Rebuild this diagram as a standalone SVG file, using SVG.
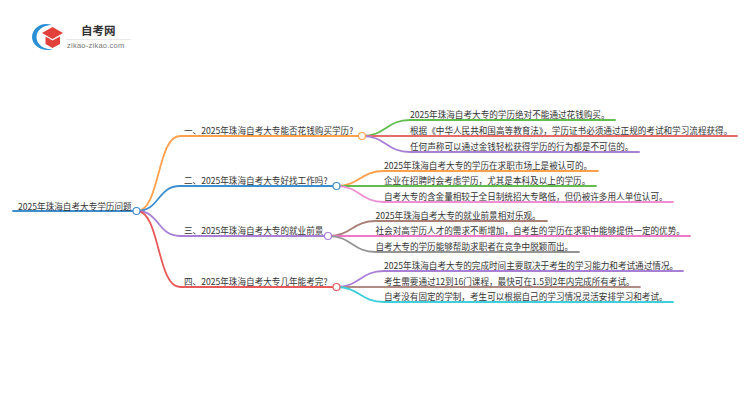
<svg xmlns="http://www.w3.org/2000/svg" width="750" height="410" viewBox="0 0 750 410">
<style>
text{font-family:"Noto Sans CJK SC","Liberation Sans",sans-serif;font-size:8.6px;fill:#333}
.l{fill:none;stroke-width:1.8;stroke-linecap:round}
.k{fill:#fff;stroke-width:1.2}
</style>
<rect width="750" height="410" fill="#fff"/>
<g id="logo">
<path d="M52 25C41 21 32 29 32 37C32 45 41 52 53 49.500C43 49.500 36.500 44 36.500 37C36.500 30 43 25 52 25Z" fill="#2b8fd6"/>
<path d="M52.500 27L63 33L52.500 39L42 33Z" fill="#e2403a"/>
<path d="M45.500 36.500L52.500 40.500L60 36.500V44L52.500 48L45.500 44Z" fill="#e2403a"/>
<text x="81" y="35" style="font-size:11.500px;font-weight:700;fill:#333">自考网</text>
<rect x="66" y="39" width="65" height="0.800" fill="#e4e4e4"/>
<text x="67" y="48" style="font-family:'Liberation Sans',sans-serif;font-size:7.500px;fill:#777;letter-spacing:.25px">zikao-zikao.com</text>
</g>
<g id="connectors">
<path class="l" stroke="#3f8fcf" d="M13 211H137"/>
<path class="l" stroke="#ffa04d" d="M137 211C160 211 157 136 180 136H362"/>
<path class="l" stroke="#3f8fcf" d="M137 211C160 211 157 186 180 186H336"/>
<path class="l" stroke="#a97fd6" d="M137 211C160 211 157 236 180 236H328"/>
<path class="l" stroke="#e85a5a" d="M137 211C160 211 157 287 180 287H336"/>
<path class="l" stroke="#62bd4f" d="M362 136C386 136 386 120 410 120H615"/>
<path class="l" stroke="#e66b6b" d="M362 136H737"/>
<path class="l" stroke="#a97fd6" d="M362 136C386 136 386 152 410 152H639"/>
<path class="l" stroke="#ffa04d" d="M336 186C360 186 360 171 384 171H598"/>
<path class="l" stroke="#62bd4f" d="M336 186H596"/>
<path class="l" stroke="#ee8fd2" d="M336 186C360 186 360 202 384 202H673"/>
<path class="l" stroke="#a98078" d="M328 236C352 236 352 221 376 221H547"/>
<path class="l" stroke="#ee78c8" d="M328 236H690"/>
<path class="l" stroke="#949494" d="M328 236C352 236 352 252 376 252H579"/>
<path class="l" stroke="#a97fd6" d="M336 287C360 287 360 271 384 271H683"/>
<path class="l" stroke="#b08a84" d="M336 287H640"/>
<path class="l" stroke="#3fcfdc" d="M336 287C360 287 360 302 384 302H673"/>
</g>
<g id="root"><circle class="k" cx="136.500" cy="211" r="3.500" stroke="#3f8fcf"/><text x="18" y="210">2025年珠海自考大专学历问题</text></g>
<g id="b1"><circle class="k" cx="362" cy="136" r="3.500" stroke="#ffa04d"/><text x="184" y="134">一、2025年珠海自考大专能否花钱购买学历?</text></g>
<g id="b2"><circle class="k" cx="336.500" cy="186" r="3.500" stroke="#3f8fcf"/><text x="184" y="184">二、2025年珠海自考大专好找工作吗?</text></g>
<g id="b3"><circle class="k" cx="328" cy="236" r="3.500" stroke="#a97fd6"/><text x="184" y="234">三、2025年珠海自考大专的就业前景</text></g>
<g id="b4"><circle class="k" cx="336.500" cy="287" r="3.500" stroke="#e85a5a"/><text x="184" y="285">四、2025年珠海自考大专几年能考完?</text></g>
<g id="n11"><text x="410" y="118">2025年珠海自考大专的学历绝对不能通过花钱购买。</text></g>
<g id="n12"><text x="410" y="134">根据《中华人民共和国高等教育法》，学历证书必须通过正规的考试和学习流程获得。</text></g>
<g id="n13"><text x="410" y="150">任何声称可以通过金钱轻松获得学历的行为都是不可信的。</text></g>
<g id="n21"><text x="384" y="169">2025年珠海自考大专的学历在求职市场上是被认可的。</text></g>
<g id="n22"><text x="384" y="184">企业在招聘时会考虑学历，尤其是本科及以上的学历。</text></g>
<g id="n23"><text x="384" y="200">自考大专的含金量相较于全日制统招大专略低，但仍被许多用人单位认可。</text></g>
<g id="n31"><text x="375.500" y="219">2025年珠海自考大专的就业前景相对乐观。</text></g>
<g id="n32"><text x="375.500" y="234">社会对高学历人才的需求不断增加，自考生的学历在求职中能够提供一定的优势。</text></g>
<g id="n33"><text x="375.500" y="250">自考大专的学历能够帮助求职者在竞争中脱颖而出。</text></g>
<g id="n41"><text x="384" y="269">2025年珠海自考大专的完成时间主要取决于考生的学习能力和考试通过情况。</text></g>
<g id="n42"><text x="384" y="285">考生需要通过12到16门课程，最快可在1.5到2年内完成所有考试。</text></g>
<g id="n43"><text x="384" y="300">自考没有固定的学制，考生可以根据自己的学习情况灵活安排学习和考试。</text></g>
</svg>
